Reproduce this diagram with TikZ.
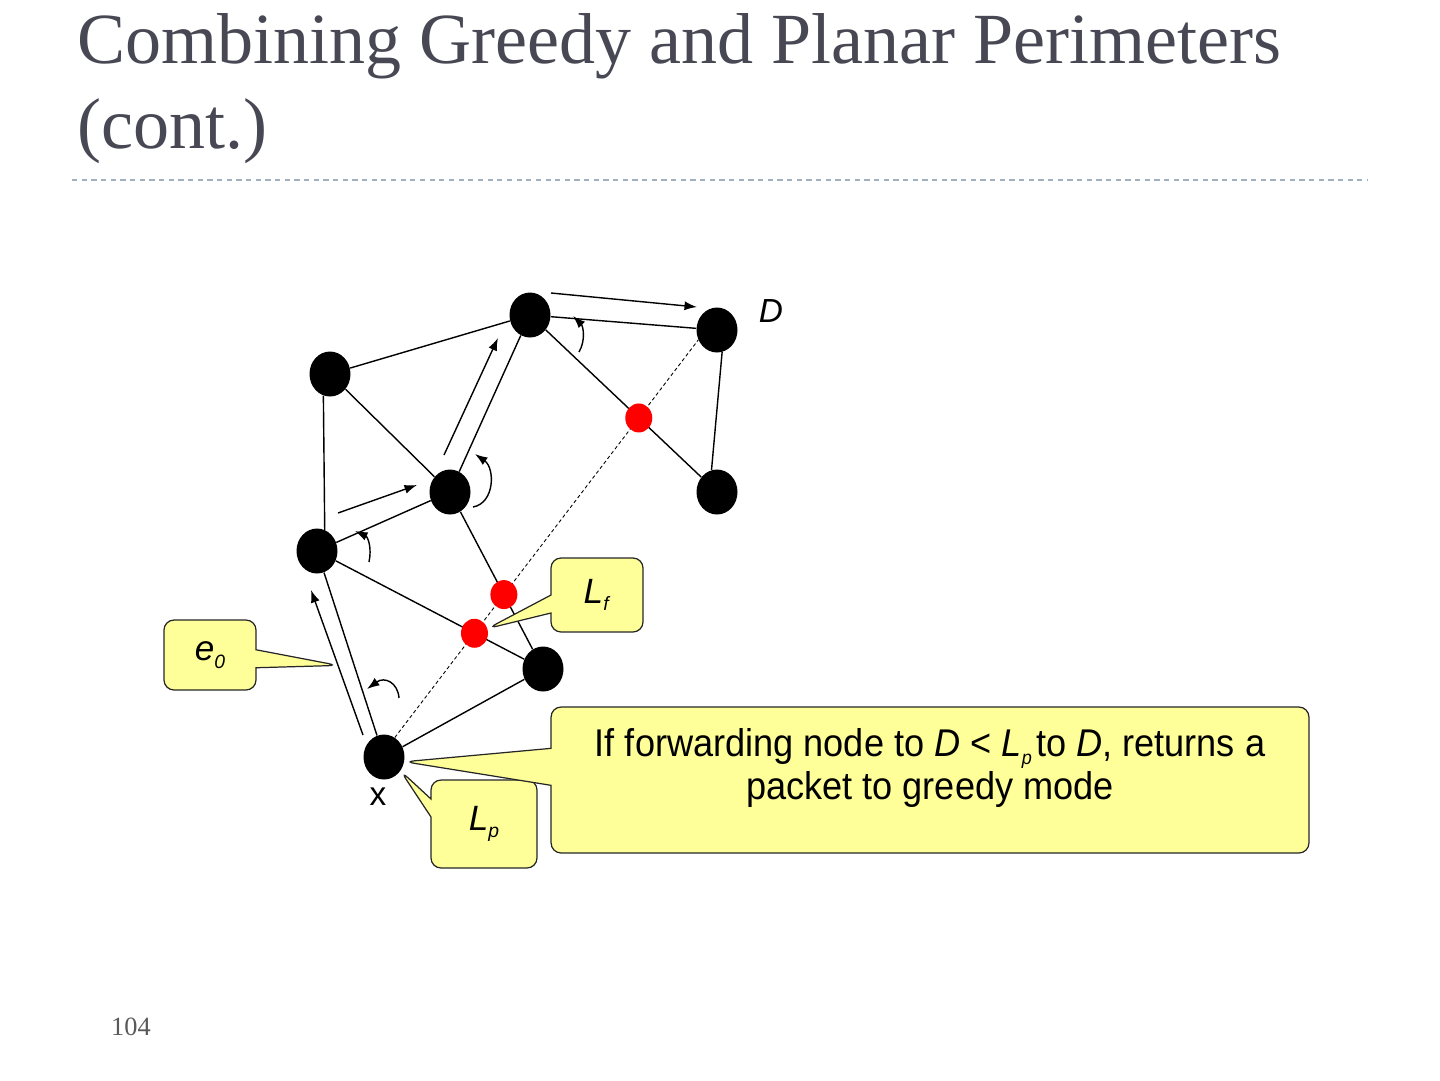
\documentclass[tikz,border=0pt]{standalone}
\usepackage{fontspec}
\setmainfont{Liberation Serif}
\setsansfont{Liberation Sans}
\usepackage{xcolor}
\usetikzlibrary{shapes.geometric,shapes.callouts,arrows.meta,calc}

\definecolor{titlegray}{RGB}{72,72,84}
\definecolor{rulegray}{RGB}{160,176,190}
\definecolor{noteyellow}{RGB}{255,255,153}
\newcommand{\lsub}[2]{\textit{#1}\raisebox{-0.4ex}{\fontsize{11}{11}\selectfont\textit{#2}}}

\begin{document}
\begin{tikzpicture}[x=0.02cm,y=-0.02cm,
  host/.style={ellipse,fill=black,minimum width=0.82cm,minimum height=0.9cm,inner sep=0},
  cross/.style={ellipse,fill=red,minimum width=0.54cm,minimum height=0.58cm,inner sep=0},
  link/.style={line width=0.8pt},
  probe/.style={line width=0.5pt,dash pattern=on 2pt off 1.5pt},
  fwd/.style={line width=0.8pt,-{Latex[length=0.25cm,width=0.18cm]}},
  note/.style={rectangle callout,draw=black!85,fill=noteyellow,line width=0.7pt,
    rounded corners=0.2cm,font=\sffamily\fontsize{20}{22}\selectfont}]
  \useasboundingbox (0,0) rectangle (1440,1080);

  % Title and rule
  \node[anchor=base west,inner sep=0,text=titlegray,font=\fontsize{41}{48}\selectfont] (title1) at (77,63) {Combining Greedy and Planar Perimeters};
  \node[anchor=base west,inner sep=0,text=titlegray,font=\fontsize{41}{48}\selectfont] (title2) at (77,148) {(cont.)};
  \draw[rulegray,line width=1pt,dash pattern=on 3pt off 2.5pt] (72,180) -- (1368,180);

  % Nodes of the graph
  \node[host] (A) at (530,315) {};
  \node[host] (D) at (717,330) {};
  \node[host] (B) at (330,374) {};
  \node[host] (C) at (450,492) {};
  \node[host] (R) at (717,492) {};
  \node[host] (E) at (317,551) {};
  \node[host] (F) at (543,669) {};
  \node[host] (X) at (384,757) {};

  % Edges
  \draw[link] (B) -- (A);
  \draw[link] (A) -- (D);
  \draw[link] (A) -- (C);
  \draw[link] (B) -- (C);
  \draw[link] (B.253) -- (E.70);
  \draw[link] (D.283) -- (R.104);
  \draw[link] (A) -- (R);
  \draw[link] (C) -- (E);
  \draw[link] (C) -- (F);
  \draw[link] (E) -- (F);
  \draw[link] (E) -- (X);
  \draw[link] (X) -- (F);

  % Line from x to D and its crossings
  \draw[probe] (X.61) -- (D.208);
  \node[cross] (r1) at (intersection of X.61--D.208 and A--R) {};
  \node[cross] (r2) at (intersection of X.61--D.208 and C--F) {};
  \node[cross] (r3) at (intersection of X.61--D.208 and E--F) {};

  % Forwarding arrows
  \coordinate (e0s) at (363,735);
  \coordinate (e0e) at (311,590);
  \draw[fwd] (e0s) -- (e0e);
  \draw[fwd] (338,513) -- (417,485);
  \draw[fwd] (444,455) -- (498,338);
  \draw[fwd] (551,293) -- (697,307);

  % Turning arrows
  \draw[fwd] (399,698) .. controls (398,683) and (385,676) .. (367,689);
  \draw[fwd] (369,562) .. controls (372,548) and (368,537) .. (355,531);
  \draw[fwd] (473,507) .. controls (495,503) and (495,468) .. (475,454);
  \draw[fwd] (579,352) .. controls (586,340) and (583,326) .. (573,316);

  % Labels
  \node[font=\sffamily\fontsize{19}{20}\selectfont] (dlabel) at (771,311) {\textit{D}};
  \node[font=\sffamily\fontsize{19}{20}\selectfont] (xlabel) at (378,797) {x};

  % Callouts
  \node[note,minimum width=1.84cm,minimum height=1.4cm,callout pointer width=0.36cm,
    callout absolute pointer={($(e0s)!0.48!(e0e)$)}] (enote) at (210,655) {\lsub{e}{0}};
  \node[note,minimum width=1.84cm,minimum height=1.48cm,callout pointer width=0.36cm,
    callout absolute pointer={(r3.20)}] (fnote) at (597,595) {\lsub{L}{f}};
  \node[note,minimum width=2.12cm,minimum height=1.76cm,callout pointer width=0.36cm,
    callout absolute pointer={(X.-40)}] (pnote) at (484,824) {\lsub{L}{p}};
  \node[note,minimum width=15.16cm,minimum height=2.92cm,callout pointer width=0.74cm,
    callout absolute pointer={(X.-13)}] (rnote) at (930,780) {};
  \node[align=center,font=\sffamily\fontsize{22}{25}\selectfont] (rtext) at (930,768)
    {\scalebox{0.935}[1]{If forwarding node to \textit{D} < \lsub{L}{p}\hspace{0.12em}to \textit{D}, returns a}\\
     \scalebox{0.935}[1]{packet to greedy mode}};

  % Slide number
  \node[anchor=base,text=black!65,font=\fontsize{15}{15}\selectfont] (pageno) at (131,1035) {104};
\end{tikzpicture}
\end{document}
